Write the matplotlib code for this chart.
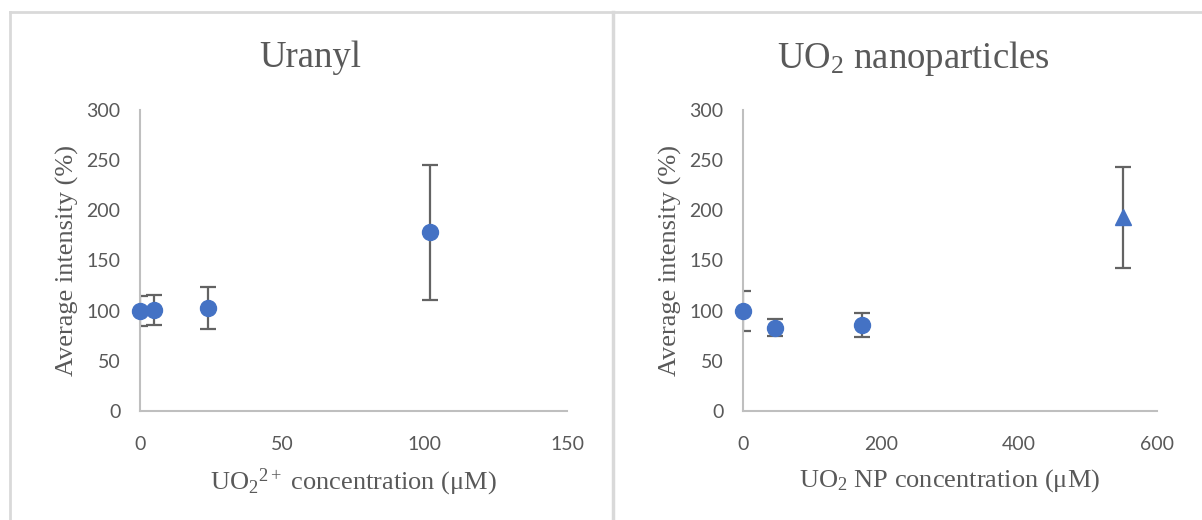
import matplotlib.pyplot as plt
from matplotlib.lines import Line2D

plt.rcParams["mathtext.fontset"] = "custom"
plt.rcParams["mathtext.rm"] = "Liberation Serif"
plt.rcParams["mathtext.it"] = "Liberation Serif:italic"

# Uranyl panel
uranyl_conc = [0, 5, 24, 102]
uranyl_int = [100, 101, 103, 178]
uranyl_err = [15, 15, 21, 67]

# UO2 nanoparticle panel
np_conc = [0, 46, 172, 550]
np_int = [100, 83, 86, 193]
np_err = [20, 8.5, 12, 50]
np_markers = ["o", "o", "o", "^"]

blue = "#4472C4"
grey_txt = "#595959"
err_col = "#636363"
serif = "Liberation Serif"
sans = "Lato"

fig = plt.figure(figsize=(12.02, 5.2), dpi=100)

# panel frames
frame = "#d9d9d9"
fig.add_artist(Line2D([10 / 1202, 1], [1 - 12 / 520] * 2, color=frame, lw=2))
fig.add_artist(Line2D([10 / 1202] * 2, [0, 1 - 12 / 520], color=frame, lw=2))
fig.add_artist(Line2D([612.5 / 1202] * 2, [0, 1 - 12 / 520], color=frame, lw=2.5))

ax1 = fig.add_axes([140 / 1202, 1 - 411 / 520, 427 / 1202, 301 / 520])
ax2 = fig.add_axes([743 / 1202, 1 - 411 / 520, 414 / 1202, 301 / 520])


def style(ax, xlim, xticks):
    ax.set_xlim(*xlim)
    ax.set_ylim(0, 300)
    ax.set_xticks(xticks)
    ax.set_yticks(range(0, 301, 50))
    for s in ["top", "right"]:
        ax.spines[s].set_visible(False)
    for s in ["left", "bottom"]:
        ax.spines[s].set_color("#bfbfbf")
        ax.spines[s].set_linewidth(1.5)
    ax.tick_params(length=0, labelsize=14, labelcolor=grey_txt)
    ax.tick_params(axis="x", pad=18)
    ax.tick_params(axis="y", pad=14)
    for lab in ax.get_xticklabels() + ax.get_yticklabels():
        lab.set_family(sans)
    ax.set_ylabel("Average intensity (%)", family=serif, fontsize=19,
                  color=grey_txt, labelpad=5)


style(ax1, (0, 150), [0, 50, 100, 150])
ax1.errorbar(uranyl_conc, uranyl_int, yerr=uranyl_err, fmt="none",
             ecolor=err_col, elinewidth=1.6, capsize=6, capthick=1.6,
             zorder=2)
ax1.plot(uranyl_conc, uranyl_int, "o", color=blue, ms=11.5, clip_on=False,
         zorder=3)
ax1.set_xlabel("UO$_2$$^{2+}$ concentration (\u03bcM)", family=serif,
               fontsize=19, color=grey_txt, labelpad=10)

style(ax2, (0, 600), [0, 200, 400, 600])
ax2.errorbar(np_conc, np_int, yerr=np_err, fmt="none", ecolor=err_col,
             elinewidth=1.6, capsize=6, capthick=1.6, zorder=2)
for x, y, m in zip(np_conc, np_int, np_markers):
    ax2.plot(x, y, marker=m, color=blue, ms=11.5, ls="none", clip_on=False,
             zorder=3)
ax2.set_xlabel("UO$_2$ NP concentration (\u03bcM)", family=serif,
               fontsize=19, color=grey_txt, labelpad=10)

fig.text(310 / 1202, 1 - 58 / 520, "Uranyl", family=serif, fontsize=26.5,
         color=grey_txt, ha="center", va="center")
fig.text(913 / 1202, 1 - 58 / 520, "UO$_2$ nanoparticles", family=serif,
         fontsize=26.5, color=grey_txt, ha="center", va="center")

fig.savefig("out.png", dpi=100, facecolor="white")
